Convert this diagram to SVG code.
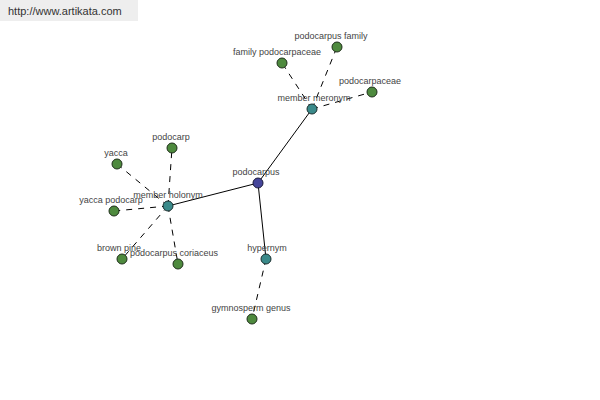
<svg xmlns="http://www.w3.org/2000/svg" width="600" height="400" viewBox="0 0 600 400">
<style>
.lbl{font-family:"Liberation Sans",Arial,sans-serif;font-size:9px;fill:#444;text-anchor:middle}
.leaf{fill:#4e8a3e;stroke:#1e2e1a;stroke-width:1}
.rel{fill:#3a8a8a;stroke:#1a2e2e;stroke-width:1}
.root{fill:#45459a;stroke:#1a1a3a;stroke-width:1}
.solid{stroke:#000;stroke-width:1;fill:none}
.dash{stroke:#000;stroke-width:1;fill:none;stroke-dasharray:6,6}
</style>
<rect width="600" height="400" fill="#fff"/>
<g id="header">
<rect x="0" y="0" width="138" height="21" fill="#eeeeee"/>
<text x="8" y="15" style="font-family:'Liberation Sans',Arial,sans-serif;font-size:11px;fill:#333">http://www.artikata.com</text>
</g>
<g id="connectors">
<line class="solid" x1="258" y1="183" x2="312" y2="109"/>
<line class="solid" x1="258" y1="183" x2="168" y2="206"/>
<line class="solid" x1="258" y1="183" x2="266" y2="259"/>
<line class="dash" x1="312" y1="109" x2="337" y2="47"/>
<line class="dash" x1="312" y1="109" x2="282" y2="63"/>
<line class="dash" x1="312" y1="109" x2="372" y2="92"/>
<line class="dash" x1="168" y1="206" x2="172" y2="148"/>
<line class="dash" x1="168" y1="206" x2="117" y2="164"/>
<line class="dash" x1="168" y1="206" x2="114" y2="211"/>
<line class="dash" x1="168" y1="206" x2="122" y2="259"/>
<line class="dash" x1="168" y1="206" x2="178" y2="264"/>
<line class="dash" x1="266" y1="259" x2="252" y2="319"/>
</g>
<g id="podocarpus"><circle class="root" cx="258" cy="183" r="5"/><text class="lbl" x="256" y="175">podocarpus</text></g>
<g id="member-meronym"><circle class="rel" cx="312" cy="109" r="5"/><text class="lbl" x="314" y="101">member meronym</text></g>
<g id="podocarpus-family"><circle class="leaf" cx="337" cy="47" r="5"/><text class="lbl" x="331" y="39">podocarpus family</text></g>
<g id="family-podocarpaceae"><circle class="leaf" cx="282" cy="63" r="5"/><text class="lbl" x="277" y="55">family podocarpaceae</text></g>
<g id="podocarpaceae"><circle class="leaf" cx="372" cy="92" r="5"/><text class="lbl" x="370" y="84">podocarpaceae</text></g>
<g id="member-holonym"><circle class="rel" cx="168" cy="206" r="5"/><text class="lbl" x="168" y="198">member holonym</text></g>
<g id="podocarp"><circle class="leaf" cx="172" cy="148" r="5"/><text class="lbl" x="171" y="140">podocarp</text></g>
<g id="yacca"><circle class="leaf" cx="117" cy="164" r="5"/><text class="lbl" x="116" y="156">yacca</text></g>
<g id="yacca-podocarp"><circle class="leaf" cx="114" cy="211" r="5"/><text class="lbl" x="111" y="203">yacca podocarp</text></g>
<g id="brown-pine"><circle class="leaf" cx="122" cy="259" r="5"/><text class="lbl" x="119" y="251">brown pine</text></g>
<g id="podocarpus-coriaceus"><circle class="leaf" cx="178" cy="264" r="5"/><text class="lbl" x="174" y="256">podocarpus coriaceus</text></g>
<g id="hypernym"><circle class="rel" cx="266" cy="259" r="5"/><text class="lbl" x="267" y="251">hypernym</text></g>
<g id="gymnosperm-genus"><circle class="leaf" cx="252" cy="319" r="5"/><text class="lbl" x="251" y="311">gymnosperm genus</text></g>
</svg>
